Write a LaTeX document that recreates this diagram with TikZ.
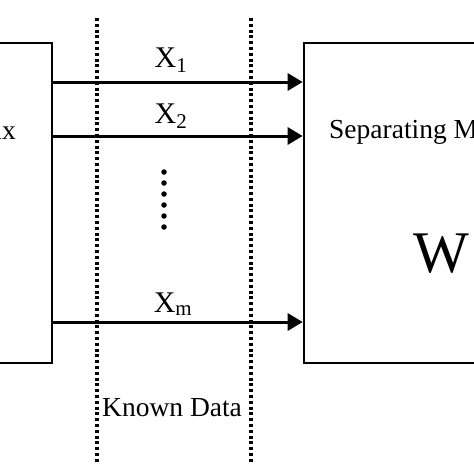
\documentclass[tikz,border=0pt]{standalone}
\usepackage{fontspec}
\setmainfont{Liberation Serif}
\usetikzlibrary{arrows.meta}
\tikzset{
  boxstyle/.style={draw, line width=2.6pt, inner sep=0pt},
  sig/.style={line width=3pt, -{Triangle[length=15pt,width=17pt]}},
  dotline/.style={line width=3.2pt, dash pattern=on 3pt off 2.8pt},
  lbl/.style={inner sep=0pt, font=\fontsize{30}{32}\selectfont, anchor=base},
  txt/.style={inner sep=0pt, font=\fontsize{27.5}{30}\selectfont},
  dotmark/.style={circle, fill, inner sep=0pt, minimum size=5.5pt}
}
\begin{document}
\begin{tikzpicture}[x=1pt,y=-1pt]
\useasboundingbox (0,0) rectangle (474,474);
\clip (0,0) rectangle (474,474);
% boxes
\node[boxstyle, minimum width=160pt, minimum height=320pt] (mix) at (-28,203) {};
\node[boxstyle, minimum width=200pt, minimum height=320pt] (sep) at (404,203) {};
% dotted boundaries
\coordinate (d1t) at (97,18);
\coordinate (d1b) at (97,462);
\coordinate (d2t) at (251,18);
\coordinate (d2b) at (251,462);
\draw[dotline] (d1t) -- (d1b);
\draw[dotline] (d2t) -- (d2b);
% signals
\draw[sig] (mix.east |- 0,82) -- (sep.west |- 0,82);
\draw[sig] (mix.east |- 0,136) -- (sep.west |- 0,136);
\draw[sig] (mix.east |- 0,322) -- (sep.west |- 0,322);
% labels
\node[lbl] (x1) at (171,67) {X\textsubscript{1}};
\node[lbl] (x2) at (171,123) {X\textsubscript{2}};
\node[lbl] (xm) at (173,312) {X\textsubscript{m}};
% vertical dots
\foreach \i in {0,...,5} {
  \node[dotmark] (vd\i) at (164,172+11*\i) {};
}
\node[txt, anchor=base west] (kd) at (102,416) {Known Data};
\node[txt, anchor=base east] (mixtxt) at (16,139) {Mixing Matrix};
\node[txt, anchor=base west] (septxt) at (329,138) {Separating Matrix};
\node[inner sep=0pt, font=\fontsize{59}{60}\selectfont, anchor=base] (w) at (441,272) {W};
\end{tikzpicture}
\end{document}
